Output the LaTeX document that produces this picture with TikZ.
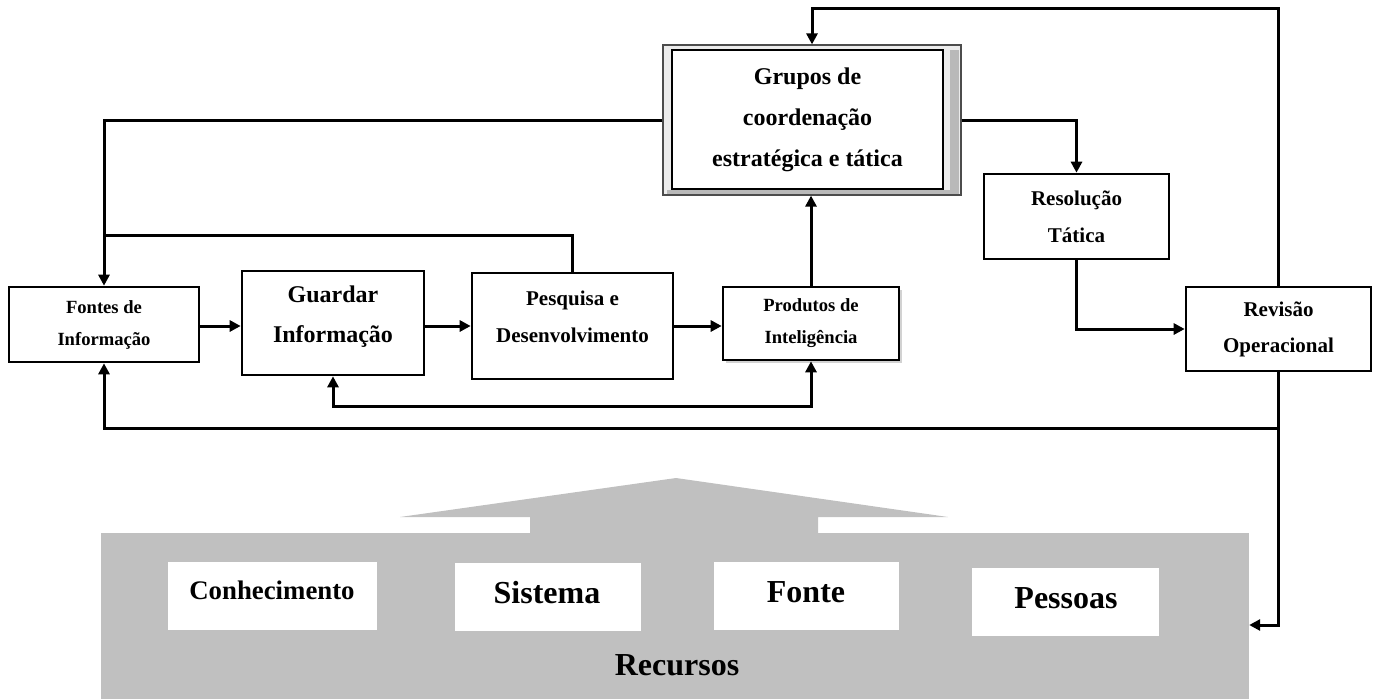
\documentclass[tikz,border=0pt]{standalone}
\usepackage{fontspec}
\setmainfont{Liberation Serif}
\usetikzlibrary{arrows.meta,calc}
\definecolor{resgray}{RGB}{192,192,192}
\begin{document}
\begin{tikzpicture}[x=1pt,y=-1pt,
  conn/.style={line width=3pt},
  tip/.tip={Triangle[length=11pt,width=11pt]},
  arr/.style={conn,-tip},
  box/.style={draw,line width=2.6pt,fill=white,align=center,inner sep=0pt},
  lbl/.style={align=center,inner sep=0pt,font=\bfseries\fontsize{#1}{#1}\selectfont},
  wbox/.style={fill=white,inner sep=0pt}
  ]
\useasboundingbox (0,0) rectangle (1378,699);

% grey resources area
\fill[resgray] (101,533) -- (530,533) -- (530,517) -- (400,517) -- (676,478) -- (948,517) -- (818,517) -- (818,533) -- cycle;
\node[fill=resgray,inner sep=0pt,minimum width=1148pt,minimum height=166pt] (rec) at (675,616) {};
\node[wbox,minimum width=209pt,minimum height=68pt] (conh) at (272.5,596) {};
\node[wbox,minimum width=186pt,minimum height=68pt] (sist) at (548,597) {};
\node[wbox,minimum width=185pt,minimum height=68pt] (fonte) at (806.5,596) {};
\node[wbox,minimum width=187pt,minimum height=68pt] (pess) at (1065.5,602) {};
\node[lbl=26.8] (conhT) at (272,590) {Conhecimento};
\node[lbl=32] (sistT) at (547,593) {Sistema};
\node[lbl=32] (fonteT) at (806,592) {Fonte};
\node[lbl=32] (pessT) at (1066,598) {Pessoas};
\node[lbl=32] (recT) at (677,665) {Recursos};

% process boxes
\node[box,minimum width=190pt,minimum height=75pt,font=\bfseries\fontsize{18.6}{32}\selectfont] (fontes) at (104,324.5) {Fontes de\\Informação};
\node[box,minimum width=182pt,minimum height=104pt] (guardar) at (333,323) {};
\node[lbl=24,font=\bfseries\fontsize{24}{40}\selectfont] (guardarT) at (333,317) {Guardar\\Informação};
\node[box,minimum width=201pt,minimum height=106pt] (pesq) at (572.5,326) {};
\node[lbl=21,font=\bfseries\fontsize{21}{37}\selectfont] (pesqT) at (572.5,316.5) {Pesquisa e\\Desenvolvimento};
\fill[gray!35] (726,290) rectangle (902,363);
\node[box,minimum width=176pt,minimum height=73pt,font=\bfseries\fontsize{18.6}{32}\selectfont] (prod) at (811,323.5) {Produtos de\\Inteligência};

% Grupos (bevelled frame)
\node[draw=gray!60!black,line width=1.2pt,fill=gray!15,inner sep=0pt,minimum width=298pt,minimum height=150pt] (grupos) at (812,120) {};
\fill[gray!55] (950,50) rectangle (959,194);
\fill[gray!55] (667,190) rectangle (959,194);
\node[box,minimum width=271pt,minimum height=139pt,font=\bfseries\fontsize{24}{41}\selectfont] (gruposI) at (807.5,119.5) {Grupos de\\coordenação\\estratégica e tática};

\node[box,minimum width=185pt,minimum height=85pt,font=\bfseries\fontsize{21}{37}\selectfont] (res) at (1076.5,216.5) {Resolução\\Tática};
\node[box,minimum width=185pt,minimum height=84pt,font=\bfseries\fontsize{21}{36}\selectfont] (rev) at (1278.5,329) {Revisão\\Operacional};

% connectors
\coordinate (tr) at (1278.5,8);
\coordinate (br) at (1278.5,428);
\coordinate (rarr) at (1278.5,625);
\draw[arr] (rev.north) -- (tr) -| (grupos.north);
\draw[conn] (rev.south) -- (br);
\draw[arr] (br) -| (fontes.south);
\draw[arr] (br) -- (rarr) -- (rarr -| rec.east);
\draw[arr] (grupos.west) -| (fontes.north);
\draw[conn] (pesq.north) |- ($(fontes.north)+(0,-50)$);
\draw[arr] ($(fontes.east)+(0,1.5)$) -- ($(fontes.east -| guardar.west)+(0,1.5)$);
\draw[arr] ($(guardar.east)+(0,3)$) -- (pesq.west);
\draw[arr] (pesq.east) -- (pesq.east -| prod.west);
\draw[arr] (prod.north) -- (prod.north |- grupos.south);
\draw[conn,tip-tip] (guardar.south) -- ++(0,30) -| (prod.south);
\draw[arr] (grupos.east) -| (res.north);
\draw[arr] (res.south) |- (rev.west);
\end{tikzpicture}
\end{document}
